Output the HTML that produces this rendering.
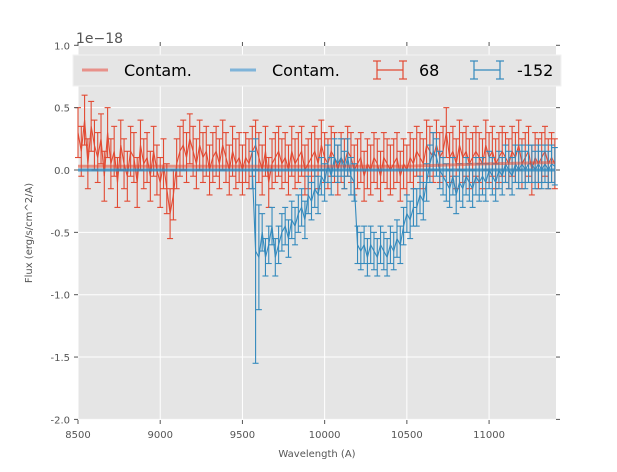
<!DOCTYPE html>
<html><head><meta charset="utf-8"><style>
body{margin:0;background:#fff;font-family:"Liberation Sans","DejaVu Sans",sans-serif;}
svg text{font-family:"DejaVu Sans","Liberation Sans",sans-serif;}
</style></head><body>
<svg id="chart" width="617" height="467" xmlns="http://www.w3.org/2000/svg">
<rect x="78" y="46" width="478" height="374" fill="#e5e5e5"/>
<g id="grid"></g>
<g id="series"></g>
<g id="axes"></g>
<text x="76" y="43" font-size="14" fill="#555">1e−18</text>
<text x="317" y="457" font-size="10" fill="#555" text-anchor="middle">Wavelength (A)</text>
<text transform="translate(32,233) rotate(-90)" font-size="10" fill="#555" text-anchor="middle">Flux (erg/s/cm^2/A)</text>
<g>
<rect x="73" y="55" width="488" height="31" fill="#e5e5e5" stroke="#f2f2f2" stroke-width="1"/>
<line x1="82" y1="70" x2="108" y2="70" stroke="#e8918a" stroke-width="3"/>
<text x="124" y="76" font-size="16" fill="#000">Contam.</text>
<line x1="230" y1="70" x2="256" y2="70" stroke="#7fb4d9" stroke-width="3"/>
<text x="272" y="76" font-size="16" fill="#000">Contam.</text>
<g stroke="#e24a33" stroke-width="1.2"><line x1="377" y1="70" x2="403" y2="70"/><line x1="377" y1="61" x2="377" y2="79"/><line x1="403" y1="61" x2="403" y2="79"/><line x1="373" y1="61" x2="381" y2="61"/><line x1="373" y1="79" x2="381" y2="79"/><line x1="399" y1="61" x2="407" y2="61"/><line x1="399" y1="79" x2="407" y2="79"/></g>
<text x="419" y="76" font-size="16" fill="#000">68</text>
<g stroke="#348abd" stroke-width="1.2"><line x1="474" y1="70" x2="500" y2="70"/><line x1="474" y1="61" x2="474" y2="79"/><line x1="500" y1="61" x2="500" y2="79"/><line x1="470" y1="61" x2="478" y2="61"/><line x1="470" y1="79" x2="478" y2="79"/><line x1="496" y1="61" x2="504" y2="61"/><line x1="496" y1="79" x2="504" y2="79"/></g>
<text x="517" y="76" font-size="16" fill="#000">-152</text>
</g>
</svg>
<script>
const xTicks=[8500,9000,9500,10000,10500,11000];
const yTicks=[1.0,0.5,0.0,-0.5,-1.0,-1.5,-2.0];
const redStart=8500, redStep=20;
const redVals=[0.3,0.15,0.4,0.05,0.35,0.2,0.1,0.25,-0.05,0.3,0.05,
0.15,-0.1,0.2,0.05,-0.05,0.15,0.1,-0.1,0.2,0.05,
0.1,-0.05,0.15,0.0,-0.1,0.05,-0.15,-0.35,-0.2,0.05,
0.15,0.2,0.1,0.25,0.15,0.05,0.2,0.1,0.15,0.0,
0.1,0.15,0.05,0.2,0.1,0.0,0.15,0.05,0.1,0.0,
0.1,0.05,0.15,0.2,0.1,0.0,0.15,-0.1,0.05,0.1,
0.15,0.05,0.1,0.0,0.15,0.05,0.1,0.15,0.0,0.05,
0.1,0.15,0.05,0.2,0.1,0.05,0.15,0.1,0.0,0.1,
0.05,0.15,0.1,0.0,0.05,0.1,-0.05,0.05,0.0,0.1,
0.05,-0.05,0.1,0.05,0.0,0.05,0.1,-0.05,0.05,0.0,
0.1,0.05,0.15,0.1,0.05,0.2,0.15,0.1,0.2,0.1,
0.15,0.3,0.1,0.15,0.05,0.2,0.1,0.15,0.05,0.1,
0.15,0.1,0.05,0.2,0.1,0.15,0.05,0.1,0.15,0.1,
0.05,0.15,0.1,0.2,0.05,0.1,0.15,0.0,0.1,0.05,
0.1,0.15,0.05,0.1,0.05];
const redErr=[0.2];
const blueStart=9560, blueStep=20;
const blueVals=[0.0,-0.65,-0.7,-0.5,-0.7,-0.6,-0.45,-0.7,-0.6,-0.5,
-0.45,-0.55,-0.4,-0.45,-0.35,-0.3,-0.4,-0.2,-0.25,-0.15,
-0.2,-0.05,-0.1,0.05,-0.05,0.1,0.05,0.1,0.0,0.1,
-0.05,-0.1,-0.6,-0.65,-0.6,-0.7,-0.6,-0.65,-0.7,-0.6,
-0.65,-0.7,-0.6,-0.65,-0.55,-0.6,-0.45,-0.35,-0.4,-0.3,
-0.3,-0.2,-0.25,-0.1,0.05,0.15,0.1,0.0,-0.05,-0.1,
-0.15,-0.05,-0.2,-0.1,-0.15,-0.05,-0.1,-0.15,-0.05,-0.1,
-0.05,-0.1,0.0,-0.05,-0.1,0.0,-0.05,0.05,0.0,-0.05,
0.05,0.0,0.05,0.0,0.05,0.05,0.0,0.05,0.0,0.05,
0.0,0.05,0.03];
const blueErr=[0.15,0.9,0.42,0.15];
const contamRed=[0.03,0.03,0.03,0.05,0.06];
const contamRedX=[8500,9500,10500,11000,11400];
const contamBlue=[0.0,0.0];
const contamBlueX=[8500,11400];
const X=v=>78+(v-8500)*478/2907;
const Y=v=>170-v*124.7;
const NS="http://www.w3.org/2000/svg";
function mk(parent,tag,attrs){const e=document.createElementNS(NS,tag);for(const k in attrs)e.setAttribute(k,attrs[k]);parent.appendChild(e);return e;}
const grid=document.getElementById('grid'),axes=document.getElementById('axes'),ser=document.getElementById('series');
xTicks.forEach(t=>{const x=X(t);
 const g=mk(grid,'line',{x1:x,x2:x,y1:46,y2:420,stroke:'#fff','stroke-width':1});
 
 
 mk(axes,'line',{x1:x,x2:x,y1:42,y2:46,stroke:'#555'});
 mk(axes,'line',{x1:x,x2:x,y1:420,y2:424,stroke:'#555'});
 const l=mk(axes,'text',{x:x,y:438,'font-size':10,fill:'#555','text-anchor':'middle'});l.textContent=t;
 
 });
yTicks.forEach(t=>{const y=Y(t);
 const g=mk(grid,'line',{x1:78,x2:556,y1:y,y2:y,stroke:'#fff','stroke-width':1});
 
 
 mk(axes,'line',{x1:74,x2:78,y1:y,y2:y,stroke:'#555'});
 mk(axes,'line',{x1:556,x2:560,y1:y,y2:y,stroke:'#555'});
 const l=mk(axes,'text',{x:70,y:y+4,'font-size':10,fill:'#555','text-anchor':'end'});l.textContent=t.toFixed(1);
 
 });
function drawSeries(start,step,vals,errs,color,name){
 const g=mk(ser,'g',{stroke:color,fill:'none','stroke-width':1.1});
 
 
 let d='';vals.forEach((v,i)=>{const x=X(start+i*step);const err=errs[Math.min(i,errs.length-1)];
  mk(g,'line',{x1:x,x2:x,y1:Y(v+err),y2:Y(v-err)});
  mk(g,'line',{x1:x-3,x2:x+3,y1:Y(v+err),y2:Y(v+err)});
  mk(g,'line',{x1:x-3,x2:x+3,y1:Y(v-err),y2:Y(v-err)});
  d+=(i?'L':'M')+x.toFixed(1)+','+Y(v).toFixed(1);});
 const p=mk(g,'path',{d:d});
 
 
}
function drawContam(xs,vals,color,name){let d='';vals.forEach((v,i)=>{d+=(i?'L':'M')+X(xs[i])+','+Y(v);});
 const p=mk(ser,'path',{d:d,stroke:color,'stroke-width':3,fill:'none'});
 
 }
drawSeries(redStart,redStep,redVals,redErr,'#e24a33','series-68');
drawSeries(blueStart,blueStep,blueVals,blueErr,'#348abd','series-minus-152');
drawContam(contamRedX,contamRed,'rgba(226,74,51,0.55)','contam-red');
drawContam(contamBlueX,contamBlue,'rgba(52,138,189,0.85)','contam-blue');
</script>
</body></html>
